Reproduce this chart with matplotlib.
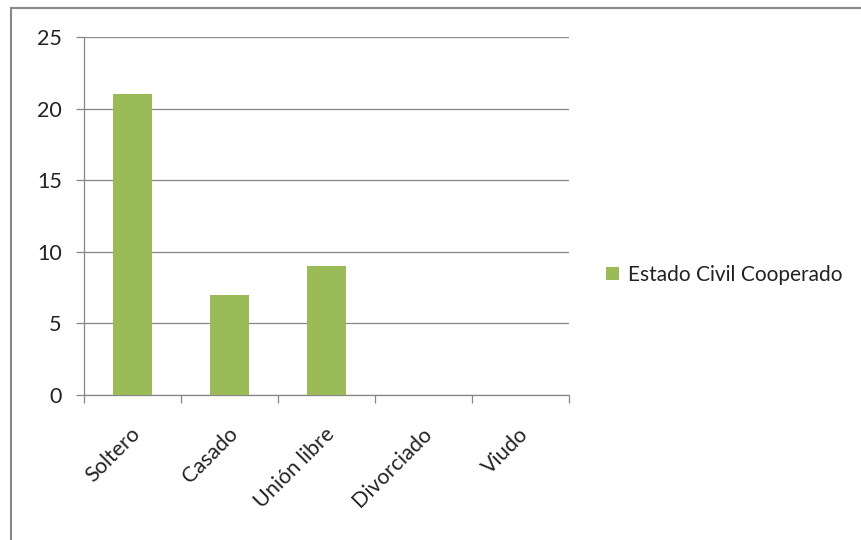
import matplotlib
matplotlib.use("Agg")
from matplotlib import pyplot as plt
from matplotlib.lines import Line2D
import numpy as np

plt.rcParams['font.family'] = ['Lato', 'DejaVu Sans']

# estado civil de los cooperados
categorias = ["Soltero", "Casado", "Unión libre", "Divorciado", "Viudo"]
valores = [21, 7, 9, 0, 0]
serie = "Estado Civil Cooperado"

verde = "#9BBB59"
gris = "#868686"
texto = "#222222"
tam = 15.5

fig = plt.figure(figsize=(8.61, 5.40), dpi=100)
ax = fig.add_axes([84 / 861, 1 - 395 / 540, 485 / 861, 358 / 540])

x = np.arange(len(categorias))
ax.bar(x, valores, width=0.4, color=verde, zorder=3, label=serie)

ax.set_xlim(-0.5, len(categorias) - 0.5)
ax.set_ylim(0, 25)
ax.set_yticks(np.arange(0, 26, 5))
ax.grid(axis="y", color=gris, linewidth=0.9, zorder=0)

# ticks del eje x en los limites entre categorias
ax.set_xticks(np.arange(-0.5, len(categorias), 1))
ax.set_xticklabels([])
ax.set_xticks(x + 0.05, minor=True)
ax.set_xticklabels(categorias, minor=True, rotation=45, ha="right",
                   va="center", rotation_mode="anchor", fontsize=tam,
                   color=texto)
ax.tick_params(axis="x", which="minor", length=0, pad=26)
ax.tick_params(axis="x", which="major", length=6, color=gris, width=0.9)
ax.tick_params(axis="y", length=6, color=gris, width=0.9, labelsize=tam,
               labelcolor=texto, pad=10)

for lado in ["top", "right"]:
    ax.spines[lado].set_visible(False)
for lado in ["left", "bottom"]:
    ax.spines[lado].set_color(gris)
    ax.spines[lado].set_linewidth(0.9)

ax.legend(loc="center left", bbox_to_anchor=(1.06, (395 - 275) / 358),
          frameon=False, fontsize=15, handlelength=0.6, handleheight=0.6,
          handletextpad=0.45, labelcolor=texto, borderaxespad=0)

# marco del grafico
fig.add_artist(Line2D([11 / 861, 11 / 861], [0, 1 - 8 / 540],
                      color="#888888", linewidth=1.5))
fig.add_artist(Line2D([11 / 861, 1], [1 - 8 / 540, 1 - 8 / 540],
                      color="#888888", linewidth=1.5))

fig.savefig("out.png", dpi=100, facecolor="white")
